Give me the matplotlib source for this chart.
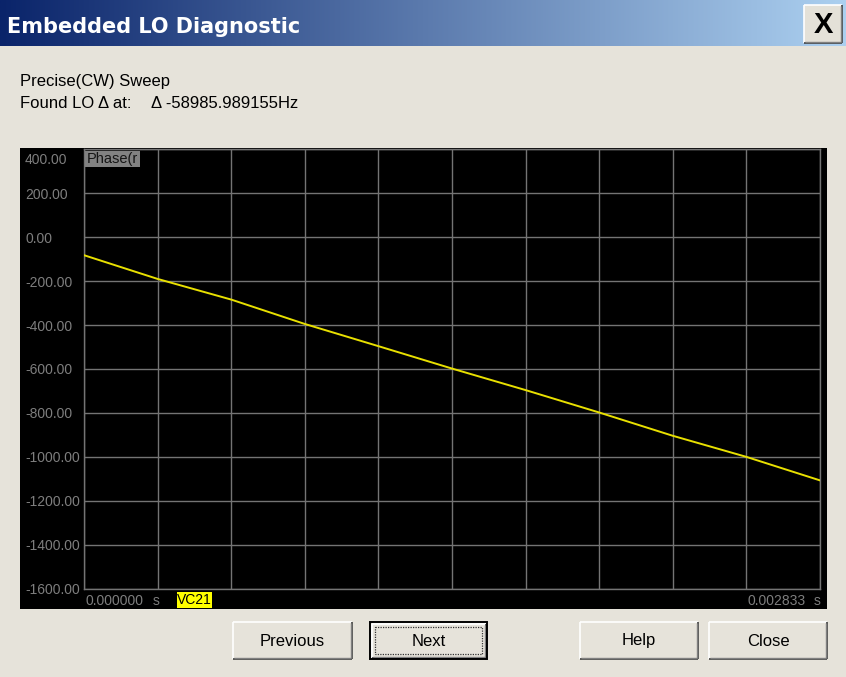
import numpy as np
import matplotlib
matplotlib.use("Agg")
import matplotlib.pyplot as plt
from matplotlib.patches import Rectangle
from matplotlib.transforms import ScaledTranslation

# ---- sweep data -------------------------------------------------------
time_s = [0.0, 0.0002833, 0.0005666, 0.0008499, 0.0011332, 0.0014165,
          0.0016998, 0.0019831, 0.0022664, 0.0025497, 0.002833]
phase = [-82, -190, -284, -395, -496, -598, -696, -798, -904, -1000, -1107]

y_ticks = [400, 200, 0, -200, -400, -600, -800, -1000, -1200, -1400, -1600]
y_tick_labels = ["400.00", "200.00", "0.00", "-200.00", "-400.00", "-600.00",
                 "-800.00", "-1000.00", "-1200.00", "-1400.00", "-1600.00"]
x_start, x_stop = 0.0, 0.002833
x_start_label = "0.000000"
x_stop_label = "0.002833"
trace_name = "VC21"
channel_label = "Phase(r"

window_title = "Embedded LO Diagnostic"
info_line1 = "Precise(CW) Sweep"
info_line2a = "Found LO \u0394 at:"
info_line2b = "\u0394 -58985.989155Hz"
button_labels = ["Previous", "Next", "Help", "Close"]

# ---- figure / dialog chrome -------------------------------------------
W, H = 846, 677
DIALOG = "#e6e3da"
UI_FONT = "Liberation Sans"

fig = plt.figure(figsize=(W / 100, H / 100), dpi=100)
fig.patch.set_facecolor(DIALOG)

bg = fig.add_axes([0, 0, 1, 1], zorder=0)
bg.axis("off")

# title bar gradient
t = np.linspace(0, 1, 512)
c0 = np.array([10, 36, 106]) / 255.0
c1 = np.array([172, 208, 240]) / 255.0
grad = c0[None, :] * (1 - t[:, None]) + c1[None, :] * t[:, None]
bg.imshow(grad[None, :, :], extent=[0, W, 46, 0], aspect="auto", zorder=1,
          interpolation="bilinear")
bg.set_xlim(0, W)
bg.set_ylim(H, 0)

bg.text(7, 33, window_title, color="white", fontsize=15,
        fontweight="bold", family="DejaVu Sans", va="baseline", ha="left",
        zorder=3)


def bevel(ax, x0, y0, x1, y1, face, light="#ffffff", mid="#808080",
          dark="#404040", z=3):
    ax.add_patch(Rectangle((x0, y0), x1 - x0, y1 - y0, facecolor=face,
                           edgecolor="none", zorder=z))
    ax.plot([x0, x1], [y0, y0], color=light, lw=1.2, zorder=z + 1,
            solid_capstyle="butt")
    ax.plot([x0, x0], [y0, y1], color=light, lw=1.2, zorder=z + 1,
            solid_capstyle="butt")
    ax.plot([x0, x1], [y1, y1], color=dark, lw=1.2, zorder=z + 1,
            solid_capstyle="butt")
    ax.plot([x1, x1], [y0, y1], color=dark, lw=1.2, zorder=z + 1,
            solid_capstyle="butt")
    ax.plot([x0 + 1, x1 - 1], [y1 - 1, y1 - 1], color=mid, lw=1.0,
            zorder=z + 1, solid_capstyle="butt")
    ax.plot([x1 - 1, x1 - 1], [y0 + 1, y1 - 1], color=mid, lw=1.0,
            zorder=z + 1, solid_capstyle="butt")


# close box in the title bar
bevel(bg, 804, 5, 842, 43, face="#e4e1d8", z=4)
bg.text(823, 25, "X", fontsize=21, fontweight="bold", family=UI_FONT,
        ha="center", va="center", color="black", zorder=6)

# info text
bg.text(20, 86, info_line1, fontsize=12, family=UI_FONT, ha="left",
        va="baseline", color="black", zorder=3)
bg.text(20, 107.7, info_line2a, fontsize=12, family=UI_FONT, ha="left",
        va="baseline", color="black", zorder=3)
bg.text(151, 107.7, info_line2b, fontsize=12, family=UI_FONT, ha="left",
        va="baseline", color="black", zorder=3)

# black instrument panel behind the graticule
bg.add_patch(Rectangle((20, 148), 807, 461, facecolor="black",
                       edgecolor="none", zorder=2))

# ---- graticule axes -----------------------------------------------------
L, R, T, B = 84, 820, 149.3, 588.7
GRID = "#747474"
LABEL = "#7e7e7e"

ax = fig.add_axes([L / W, 1 - B / H, (R - L) / W, (B - T) / H], zorder=2)
ax.set_facecolor("black")
ax.plot(time_s, phase, color="#e8e000", lw=1.4, zorder=3)
ax.set_xlim(x_start, x_stop)
ax.set_ylim(y_ticks[-1], y_ticks[0])

ax.set_xticks(np.linspace(x_start, x_stop, 11))
ax.set_yticks(y_ticks)
ax.set_yticklabels(y_tick_labels, ha="left", color=LABEL, fontsize=10,
                   family=UI_FONT)
ax.tick_params(axis="both", length=0)
ax.tick_params(axis="x", labelbottom=False)
ax.tick_params(axis="y", pad=59 * 0.72)
ax.grid(True, color=GRID, lw=1.0)
ax.set_axisbelow(True)
for sp in ax.spines.values():
    sp.set_color(GRID)
    sp.set_linewidth(1.0)

# the topmost value label sits just inside the frame
top_label = ax.get_yticklabels()[0]
top_label.set_transform(top_label.get_transform() +
                        ScaledTranslation(0, -9 / 100, fig.dpi_scale_trans))

# ---- overlay: channel tag, sweep span, trace tag, buttons ---------------
ov = fig.add_axes([0, 0, 1, 1], zorder=5)
ov.patch.set_alpha(0)
ov.axis("off")
ov.set_xlim(0, W)
ov.set_ylim(H, 0)

tag = Rectangle((84.5, 150.5), 55.5, 16, facecolor="#828282",
                edgecolor="none", zorder=3)
ov.add_patch(tag)
tag_text = ov.text(87, 158.8, channel_label, fontsize=10.5, family=UI_FONT,
                   ha="left", va="center", color="#161616", zorder=4)
tag_text.set_clip_path(tag)

ov.text(85.5, 601, x_start_label, fontsize=10, family=UI_FONT, ha="left",
        va="center", color=LABEL)
ov.text(152.5, 601, "s", fontsize=10, family=UI_FONT, ha="left",
        va="center", color=LABEL)
ov.text(806, 601, x_stop_label, fontsize=10, family=UI_FONT, ha="right",
        va="center", color=LABEL)
ov.text(813.5, 601, "s", fontsize=10, family=UI_FONT, ha="left",
        va="center", color=LABEL)

ov.add_patch(Rectangle((176.7, 591.7), 35, 16, facecolor="#ffff00",
                       edgecolor="none", zorder=3))
ov.text(194.2, 600, trace_name, fontsize=10, family=UI_FONT, ha="center",
        va="center", color="black", zorder=4)

# dialog buttons
button_boxes = [(233, 622, 352, 659), (370, 622, 487, 659),
                (580, 622, 698, 659), (709, 622, 827, 659)]
for label, (x0, y0, x1, y1) in zip(button_labels, button_boxes):
    is_default = label == "Next"
    if is_default:
        ov.add_patch(Rectangle((x0, y0), x1 - x0, y1 - y0, facecolor="none",
                               edgecolor="black", lw=1.4, zorder=6))
        bevel(ov, x0 + 1.5, y0 + 1.5, x1 - 1.5, y1 - 1.5, face=DIALOG, z=3)
        ov.add_patch(Rectangle((x0 + 5, y0 + 5), x1 - x0 - 10, y1 - y0 - 10,
                               facecolor="none", edgecolor="#333333",
                               lw=0.9, ls=(0, (1, 1)), zorder=6))
    else:
        bevel(ov, x0, y0, x1, y1, face=DIALOG, z=3)
    ov.text((x0 + x1) / 2, (y0 + y1) / 2 + 0.5, label, fontsize=12,
            family=UI_FONT, ha="center", va="center", color="black",
            zorder=7)

fig.savefig("out.png", dpi=100, facecolor=fig.get_facecolor())
